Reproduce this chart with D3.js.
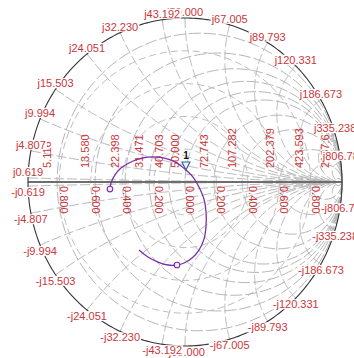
<!DOCTYPE html>
<html><head><meta charset="utf-8">
<script src="https://cdn.jsdelivr.net/npm/d3@7"></script>
<style>
html,body{margin:0;padding:0;background:#fff;}
svg{display:block;font-family:"Liberation Sans",Arial,sans-serif;}
</style></head><body>
<svg id="chart" width="354" height="358"></svg>
<script>
// Reference impedance (ohms)
const z0 = 50;
// Resistance circles and their labels along the real axis (ohms)
const resistanceTicks = [5.116, 13.580, 22.398, 31.471, 40.703, 50.000, 72.743, 107.282, 202.379, 423.593, 2187.61];
const resistanceLabels = ["5.116", "13.580", "22.398", "31.471", "40.703", "50.000", "72.743", "107.282", "202.379", "423.593", "2187.61"];
// Reflection-coefficient ticks along the real axis
const gammaTicks = [-0.8, -0.6, -0.4, -0.2, 0, 0.2, 0.4, 0.6, 0.8];
const gammaLabels = ["0.800", "0.600", "0.400", "0.200", "0.000", "0.200", "0.400", "0.600", "0.800"];
// Reactance arcs and their labels around the rim (ohms)
const reactanceTicks = [0.619, 4.807, 9.994, 15.503, 24.051, 32.230, 43.192, 50.000, 67.005, 89.793, 120.331, 186.673, 335.238, 806.78];
const reactanceLabels = ["0.619", "4.807", "9.994", "15.503", "24.051", "32.230", "43.192", "50.000", "67.005", "89.793", "120.331", "186.673", "335.238", "806.78"];
// Measured trace as reflection coefficient (real / imaginary parts)
const traceRe = [-0.478, -0.471, -0.446, -0.408, -0.357, -0.299, -0.236, -0.172, -0.108, -0.051, 0.006, 0.051, 0.089, 0.121, 0.134, 0.134, 0.121, 0.089, 0.045, -0.006, -0.051, -0.108, -0.172, -0.236, -0.293];
const traceIm = [-0.043, -0.006, 0.043, 0.085, 0.116, 0.140, 0.152, 0.152, 0.140, 0.116, 0.073, 0.030, -0.030, -0.104, -0.183, -0.268, -0.348, -0.415, -0.463, -0.494, -0.506, -0.506, -0.488, -0.457, -0.415];
// Numbered marker and plain circle markers (indices into the trace)
const markerIndex = 10;
const markerLabel = "1";
const circleMarkerIndices = [0, 20];

const svg = d3.select("#chart");
const xs = d3.scaleLinear().domain([-1, 1]).range([28, 342]);
const ys = d3.scaleLinear().domain([-1, 1]).range([346, 18]);
const line = d3.line().x(d => xs(d[0])).y(d => ys(d[1]));

// normalized impedance -> reflection coefficient
function gamma(r, x) {
  const d = (r + 1) * (r + 1) + x * x;
  return [(r * r + x * x - 1) / d, 2 * x / d];
}
const N = 260;
const tSweep = d3.range(N + 1).map(i => -1.5695 + 3.139 * i / N);
const tHalf = d3.range(N + 1).map(i => 1.5695 * i / N);

const labelColor = "#c8373c";
const grid = svg.append("g").attr("fill", "none").attr("stroke", "#b5b5b5").attr("stroke-width", 1);

// constant-resistance circles
resistanceTicks.forEach(R => {
  const r = R / z0;
  grid.append("path").attr("stroke-dasharray", "12,3")
    .attr("d", line(tSweep.map(t => gamma(r, Math.tan(t)))));
});
// constant-reactance arcs (both signs)
reactanceTicks.forEach(X => {
  const x = X / z0;
  [1, -1].forEach(s => {
    grid.append("path").attr("stroke-dasharray", "10,3")
      .attr("d", line(tHalf.map(t => gamma(Math.tan(t), s * x))));
  });
});
// |Γ| circles
gammaTicks.filter(g => g > 0).forEach(g => {
  grid.append("path").attr("stroke-dasharray", "7,4").attr("stroke", "#bdbdbd")
    .attr("d", line(d3.range(181).map(i => [g * Math.cos(i * Math.PI / 90), g * Math.sin(i * Math.PI / 90)])));
});

// real axis
svg.append("line").attr("x1", xs(-1)).attr("x2", xs(1)).attr("y1", ys(0)).attr("y2", ys(0))
  .attr("stroke", "#6e6e6e").attr("stroke-width", 2);

// rim
svg.append("path").attr("fill", "none").attr("stroke", "#333").attr("stroke-width", 1.1)
  .attr("d", line(d3.range(361).map(i => [Math.cos(i * Math.PI / 180), Math.sin(i * Math.PI / 180)])));

// resistance labels above the axis
svg.append("g").selectAll("text").data(resistanceTicks).join("text")
  .each(function (R, i) {
    const g = (R - z0) / (R + z0);
    const px = xs(g) - 6, py = ys(0) - 14;
    d3.select(this).attr("x", px).attr("y", py)
      .attr("transform", `rotate(-90,${px},${py})`)
      .text(resistanceLabels[i]);
  })
  .attr("font-size", 11).attr("fill", labelColor);

// reflection-coefficient labels below the axis
svg.append("g").selectAll("text").data(gammaTicks).join("text")
  .each(function (g, i) {
    const px = xs(g) + 1, py = ys(0) + 4;
    d3.select(this).attr("x", px).attr("y", py)
      .attr("transform", `rotate(90,${px},${py})`)
      .text(gammaLabels[i]);
  })
  .attr("font-size", 11).attr("fill", labelColor);

// reactance labels around the rim, drawn from the right end toward the left
const rim = svg.append("g");
const rimItems = [];
reactanceTicks.forEach((X, i) => {
  [1, -1].forEach(s => rimItems.push({ X, s, label: (s > 0 ? "j" : "-j") + reactanceLabels[i] }));
});
rimItems.slice().reverse().forEach(d => {
  const g = gamma(0, d.s * d.X / z0);
  const px = xs(g[0]);
  const cy = ys(g[1]) - d.s * 6;
  const grp = rim.append("g");
  const bg = grp.append("rect").attr("fill", "#fff");
  const t = grp.append("text").attr("x", px).attr("y", cy + 4).attr("text-anchor", "middle")
    .attr("font-size", 11).attr("fill", labelColor).text(d.label);
  const w = t.node().getComputedTextLength();
  bg.attr("x", px - w / 2 - 1).attr("y", cy - 5).attr("width", w + 2).attr("height", 10);
});

// trace
const pts = traceRe.map((r, i) => [r, traceIm[i]]);
svg.append("path").attr("fill", "none").attr("stroke", "#7a2ea6").attr("stroke-width", 1.3)
  .attr("d", d3.line().x(d => xs(d[0])).y(d => ys(d[1])).curve(d3.curveCatmullRom)(pts));

svg.append("g").selectAll("circle").data(circleMarkerIndices).join("circle")
  .attr("cx", i => xs(traceRe[i])).attr("cy", i => ys(traceIm[i])).attr("r", 2.8)
  .attr("fill", "#f3ecf8").attr("stroke", "#7a2ea6").attr("stroke-width", 1.1);

const mx = xs(traceRe[markerIndex]), my = ys(traceIm[markerIndex]);
svg.append("path").attr("d", `M${mx - 4},${my - 8}L${mx + 4},${my - 8}L${mx},${my}Z`)
  .attr("fill", "#eef3fb").attr("stroke", "#2d5f8f").attr("stroke-width", 1.1);
svg.append("text").attr("x", mx).attr("y", my - 11).attr("text-anchor", "middle")
  .attr("font-size", 10).attr("font-weight", "bold").attr("fill", "#111").text(markerLabel);
</script>
</body></html>
